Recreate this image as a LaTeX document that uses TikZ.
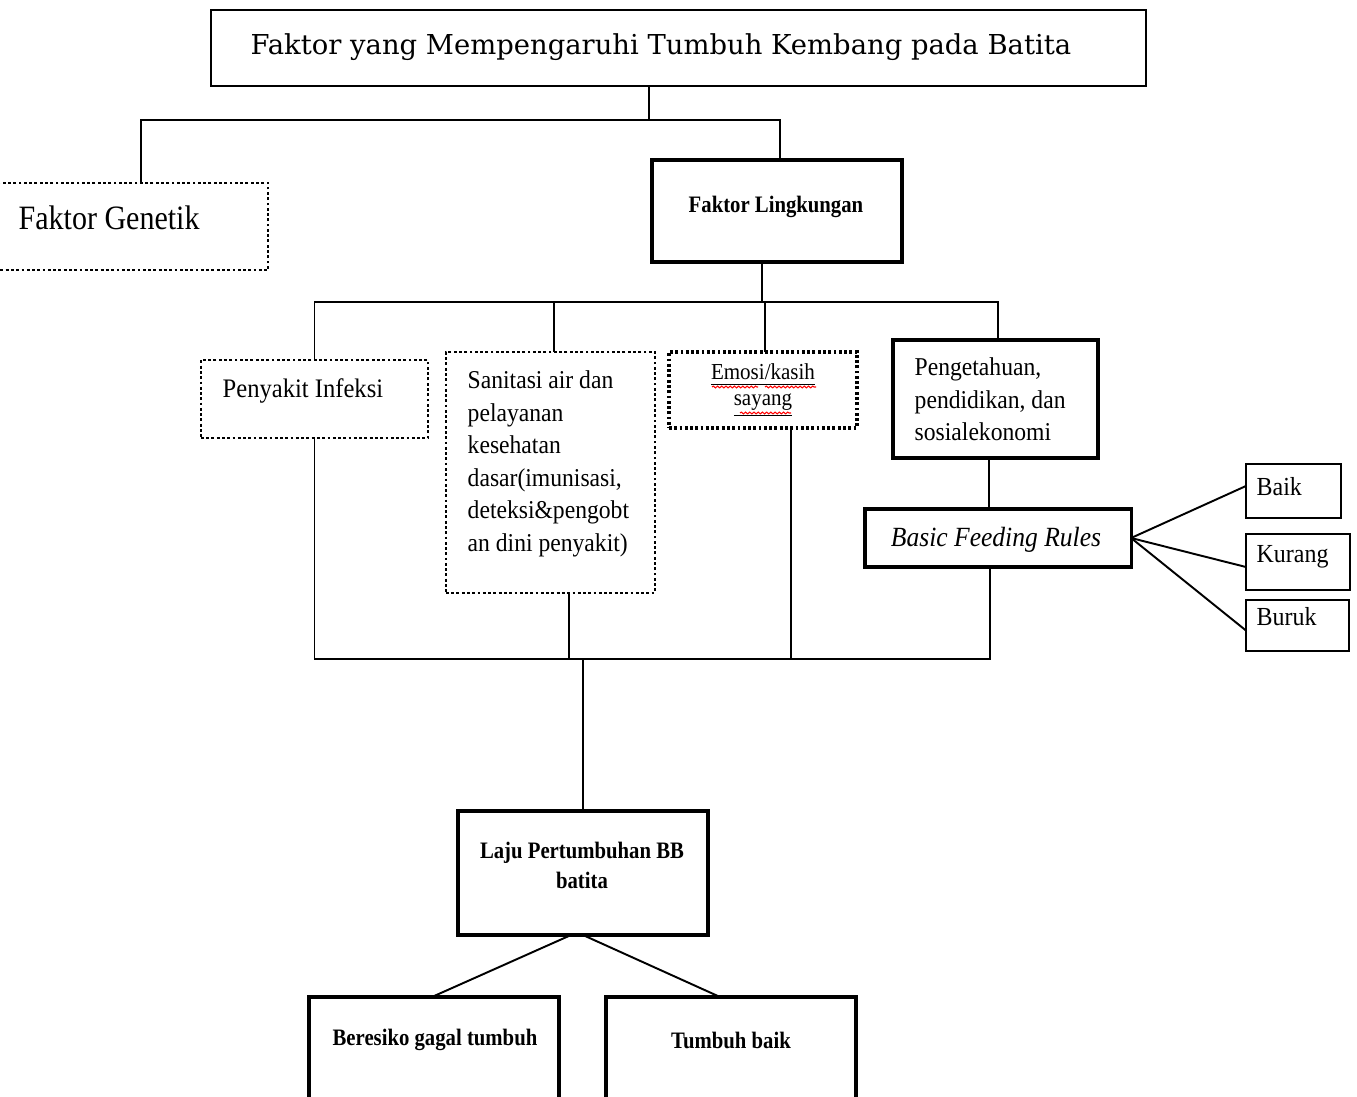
\documentclass[tikz,border=0pt]{standalone}
\usepackage{fontspec}
\setmainfont{Liberation Serif}
\newfontfamily\condfont[FakeStretch=0.92]{Liberation Serif}
\newfontfamily\narrowfont[FakeStretch=0.88]{Liberation Serif}
\newfontfamily\titlefont{DejaVu Serif}
\usetikzlibrary{positioning}
\usetikzlibrary{decorations.pathmorphing}
\tikzset{box/.style={draw, outer sep=0pt, inner sep=0pt, line width=0.9pt}}
\tikzset{thinbox/.style={draw, outer sep=0pt, inner sep=0pt, line width=0.5pt}}
\tikzset{dotbox/.style={draw, outer sep=0pt, inner sep=0pt, line width=0.8pt, dash pattern=on 0.8pt off 0.7pt}}
\tikzset{txt/.style={inner sep=0pt, font=\condfont\fontsize{7.3}{9.25}\selectfont}}
\tikzset{btxt/.style={inner sep=0pt, font=\narrowfont\bfseries\fontsize{6.7}{8.6}\selectfont}}
\tikzset{wire/.style={line width=0.55pt}}
\tikzset{squiggle/.style={red, line width=0.3pt, decorate, decoration={snake, amplitude=0.25pt, segment length=1.2pt}}}

\begin{document}
\begin{tikzpicture}[x=0.01cm, y=-0.01cm]
\useasboundingbox (0,0) rectangle (1357,1097);
\clip (0,0) rectangle (1357,1097);

% boxes
\node[thinbox, minimum width=93.5mm, minimum height=7.6mm] (top) at (678.5,48) {};
\node[dotbox, minimum width=27.8mm, minimum height=8.7mm] (gen) at (129,226.5) {};
\node[box, minimum width=25mm, minimum height=10.2mm] (lingk) at (777,211) {};
\node[dotbox, minimum width=22.7mm, minimum height=7.8mm] (peny) at (314.5,399) {};
\node[dotbox, minimum width=20.9mm, minimum height=24.1mm] (sanit) at (550.5,472.5) {};
\node[dotbox, line width=1.1pt, minimum width=18.8mm, minimum height=7.6mm] (emosi) at (763,390) {};
\node[box, minimum width=20.5mm, minimum height=11.8mm] (penget) at (995.5,399) {};
\node[box, minimum width=26.6mm, minimum height=5.8mm] (bfr) at (998,538) {};
\node[thinbox, line width=0.65pt, minimum width=9.5mm, minimum height=5.4mm] (baik) at (1293.5,491) {};
\node[thinbox, line width=0.65pt, minimum width=10.4mm, minimum height=5.6mm] (kurang) at (1298,562) {};
\node[thinbox, line width=0.65pt, minimum width=10.3mm, minimum height=5.1mm] (buruk) at (1297.5,625.5) {};
\node[box, minimum width=25mm, minimum height=12.4mm] (laju) at (583,873) {};
\node[box, minimum width=25mm, minimum height=11.3mm] (beres) at (434,1053.5) {};
\node[box, minimum width=25mm, minimum height=11.3mm] (tumbuh) at (731,1053.5) {};

% texts
\node[inner sep=0pt, anchor=base, font=\titlefont\fontsize{7.8}{9}\selectfont] (topT) at (661,55) {Faktor yang Mempengaruhi Tumbuh Kembang pada Batita};
\node[inner sep=0pt, anchor=base west, font=\narrowfont\fontsize{9.7}{11}\selectfont] (genT) at (18,230) {Faktor Genetik};
\node[btxt, anchor=base] (lingkT) at (776,213) {Faktor Lingkungan};
\node[txt, font=\condfont\fontsize{7.6}{9.25}\selectfont, anchor=base west] (penyT) at (222,397) {Penyakit Infeksi};
\node[txt, anchor=north west, align=left] (sanitT) at (467,370) {Sanitasi air dan\\pelayanan\\kesehatan\\dasar(imunisasi,\\deteksi\&pengobt\\an dini penyakit)};
\node[txt, font=\condfont\fontsize{6.5}{7.4}\selectfont, anchor=north, align=center] (emosiT) at (763,363) {\underline{Emosi/kasih}\\\underline{sayang}};
\node[txt, anchor=north west, align=left] (pengetT) at (914,357) {Pengetahuan,\\pendidikan, dan\\sosialekonomi};
\node[txt, font=\condfont\itshape\fontsize{7.9}{9}\selectfont, anchor=base] (bfrT) at (996,546) {Basic Feeding Rules};
\node[txt, font=\condfont\fontsize{7.4}{9}\selectfont, anchor=base west] (baikT) at (1256,495) {Baik};
\node[txt, font=\condfont\fontsize{7.4}{9}\selectfont, anchor=base west] (kurangT) at (1256,562) {Kurang};
\node[txt, font=\condfont\fontsize{7.4}{9}\selectfont, anchor=base west] (burukT) at (1256,625) {Buruk};
\node[btxt, anchor=north, align=center] (lajuT) at (582,841) {Laju Pertumbuhan BB\\batita};
\node[btxt, anchor=base] (beresT) at (435,1045) {Beresiko gagal tumbuh};
\node[btxt, anchor=base] (tumbuhT) at (731,1048) {Tumbuh baik};

% spelling marks
\draw[squiggle] (712,387) -- (758,387);
\draw[squiggle] (765,387) -- (816,387);
\draw[squiggle] (740,413) -- (791,413);

% connectors
\coordinate (j1) at (649,120);
\coordinate (j2) at (762,302);
\coordinate (j3) at (580,659);
\draw[wire] (top.south -| j1) -- (j1);
\draw[wire] ([xshift=1.2mm]gen.north) |- (j1) -| ([xshift=0.3mm]lingk.north);
\draw[wire] (lingk.south -| j2) -- (j2);
\draw[wire] (peny.north) |- (j2) -| ([xshift=0.25mm]penget.north);
\draw[wire] ([xshift=0.35mm]sanit.north) -- ([xshift=0.35mm]sanit.north |- j2);
\draw[wire] ([xshift=0.2mm]emosi.north) -- ([xshift=0.2mm]emosi.north |- j2);
\draw[wire] ([xshift=-0.65mm]penget.south) -- ([xshift=-0.65mm]penget.south |- bfr.north);
\draw[wire] (peny.south) |- (j3) -| ([xshift=-0.8mm]bfr.south);
\draw[wire] ([xshift=1.85mm]sanit.south) -- ([xshift=1.85mm]sanit.south |- j3);
\draw[wire] ([xshift=2.8mm]emosi.south) -- ([xshift=2.8mm]emosi.south |- j3);
\draw[wire] (laju.north |- j3) -- (laju.north);
\draw[wire] ([xshift=-1.2mm]laju.south) -- ([xshift=-0.2mm]beres.north);
\draw[wire] (laju.south) -- ([xshift=-1.1mm]tumbuh.north);
\draw[wire] (bfr.east) -- ([yshift=0.5mm]baik.west);
\draw[wire] (bfr.east) -- ([yshift=-0.5mm]kurang.west);
\draw[wire] (bfr.east) -- ([yshift=-0.5mm]buruk.west);
\end{tikzpicture}
\end{document}
